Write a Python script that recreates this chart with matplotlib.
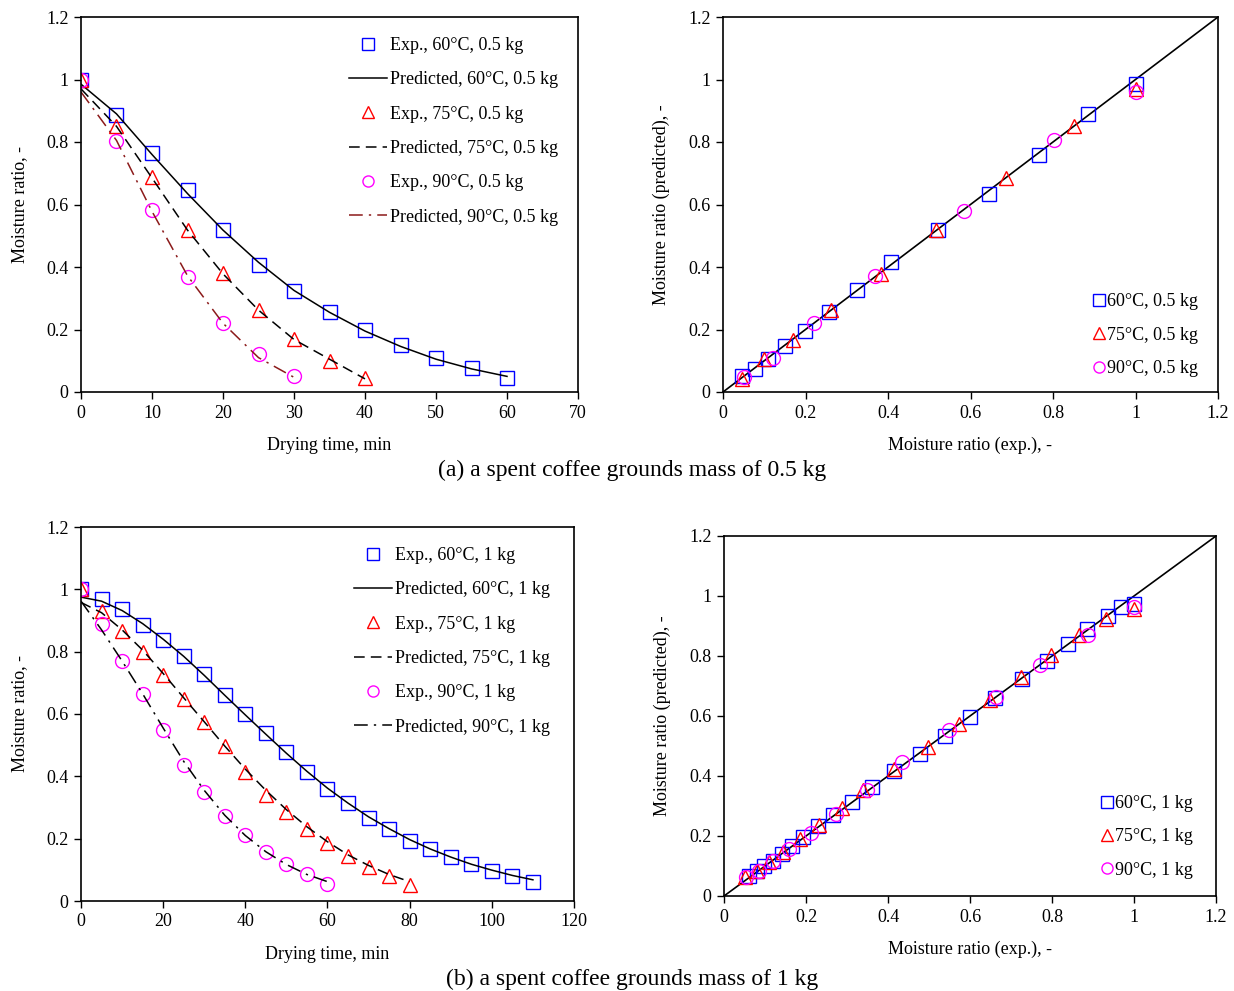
import matplotlib
matplotlib.use('Agg')
from matplotlib import pyplot as plt
from matplotlib.ticker import FuncFormatter

plt.rcParams['font.family'] = ['Liberation Serif', 'DejaVu Serif']
plt.rcParams['font.size'] = 13

# ---- 0.5 kg data ----
t60_05 = [0, 5, 10, 15, 20, 25, 30, 35, 40, 45, 50, 55, 60]
exp60_05 = [1.0, 0.885, 0.765, 0.645, 0.52, 0.407, 0.324, 0.257, 0.199, 0.151, 0.109, 0.077, 0.045]
pred60_05 = [0.985, 0.89, 0.76, 0.635, 0.518, 0.415, 0.325, 0.255, 0.195, 0.146, 0.105, 0.074, 0.05]

t75_05 = [0, 5, 10, 15, 20, 25, 30, 35, 40]
exp75_05 = [1.0, 0.85, 0.687, 0.517, 0.382, 0.263, 0.17, 0.1, 0.045]
pred75_05 = [0.97, 0.85, 0.685, 0.518, 0.378, 0.262, 0.168, 0.105, 0.042]

t90_05 = [0, 5, 10, 15, 20, 25, 30]
exp90_05 = [1.0, 0.802, 0.584, 0.369, 0.221, 0.122, 0.051]
pred90_05 = [0.96, 0.805, 0.578, 0.372, 0.22, 0.11, 0.047]

# ---- 1 kg data ----
t60_1 = [0, 5, 10, 15, 20, 25, 30, 35, 40, 45, 50, 55, 60, 65, 70, 75, 80, 85, 90, 95, 100, 105, 110]
exp60_1 = [1.0, 0.969, 0.936, 0.886, 0.839, 0.787, 0.727, 0.661, 0.600, 0.538, 0.478, 0.415, 0.360,
           0.313, 0.267, 0.230, 0.193, 0.166, 0.142, 0.119, 0.097, 0.080, 0.061]
pred60_1 = [0.975, 0.962, 0.932, 0.89, 0.84, 0.785, 0.724, 0.66, 0.597, 0.535, 0.474, 0.416, 0.362,
            0.314, 0.27, 0.232, 0.197, 0.167, 0.141, 0.118, 0.099, 0.082, 0.068]

t75_1 = [0, 5, 10, 15, 20, 25, 30, 35, 40, 45, 50, 55, 60, 65, 70, 75, 80]
exp75_1 = [1.0, 0.931, 0.866, 0.798, 0.724, 0.649, 0.574, 0.497, 0.414, 0.339, 0.287, 0.232,
           0.185, 0.144, 0.110, 0.080, 0.052]
pred75_1 = [0.958, 0.925, 0.87, 0.805, 0.73, 0.652, 0.575, 0.497, 0.423, 0.355, 0.293, 0.238,
            0.19, 0.148, 0.114, 0.085, 0.062]

t90_1 = [0, 5, 10, 15, 20, 25, 30, 35, 40, 45, 50, 55, 60]
exp90_1 = [1.0, 0.888, 0.771, 0.663, 0.549, 0.435, 0.349, 0.273, 0.212, 0.158, 0.119, 0.086, 0.054]
pred90_1 = [0.962, 0.87, 0.77, 0.665, 0.555, 0.448, 0.355, 0.275, 0.21, 0.158, 0.117, 0.085, 0.062]

W, H = 1234, 991
fig = plt.figure(figsize=(W / 100, H / 100), dpi=100)


def box(x0, y0, x1, y1):
    return fig.add_axes([x0 / W, 1 - y1 / H, (x1 - x0) / W, (y1 - y0) / H])


def style(ax):
    ax.tick_params(direction='out', length=5, width=1, labelsize=13, pad=4)
    for s in ax.spines.values():
        s.set_linewidth(1.2)
    ax.yaxis.set_major_formatter(FuncFormatter(lambda v, p: '%g' % round(v, 2)))
    ax.xaxis.set_major_formatter(FuncFormatter(lambda v, p: '%g' % round(v, 2)))


mk = dict(linestyle='none', markerfacecolor='none', markersize=10, markeredgewidth=1)


def drying(ax, data, xmax, xstep, mass, c90, anchor_x):
    ls = ['-', (0, (7, 4)), (0, (9, 4, 1.5, 4))]
    lc = ['black', 'black', c90]
    marks = [('s', 'blue'), ('^', 'red'), ('o', 'magenta')]
    for i, (temp, t, e, p) in enumerate(data):
        ax.plot(t, e, marker=marks[i][0], markeredgecolor=marks[i][1], **mk,
                label='Exp., %d°C, %s' % (temp, mass))
        ax.plot(t, p, color=lc[i], linestyle=ls[i], linewidth=1.1,
                label='Predicted, %d°C, %s' % (temp, mass))
    ax.set_xlim(0, xmax)
    ax.set_ylim(0, 1.2)
    ax.set_xticks(range(0, xmax + 1, xstep))
    ax.set_yticks([0, 0.2, 0.4, 0.6, 0.8, 1.0, 1.2])
    ax.set_xlabel('Drying time, min', labelpad=11)
    ax.set_ylabel('Moisture ratio, -', labelpad=13)
    style(ax)
    ax.legend(loc='upper right', frameon=False, fontsize=13, handlelength=2.1,
              labelspacing=0.96, handletextpad=0.15, bbox_to_anchor=(anchor_x, 0.99),
              markerscale=0.8)


def parity(ax, data, mass, anchor):
    ax.plot([0, 1.2], [0, 1.2], color='black', linewidth=1.2)
    marks = [('s', 'blue'), ('^', 'red'), ('o', 'magenta')]
    for i, (temp, e, p) in enumerate(data):
        ax.plot(e, p, marker=marks[i][0], markeredgecolor=marks[i][1], **mk,
                label='%d°C, %s' % (temp, mass))
    ax.set_xlim(0, 1.2)
    ax.set_ylim(0, 1.2)
    ax.set_xticks([0, 0.2, 0.4, 0.6, 0.8, 1.0, 1.2])
    ax.set_yticks([0, 0.2, 0.4, 0.6, 0.8, 1.0, 1.2])
    ax.set_xlabel('Moisture ratio (exp.), -', labelpad=11)
    ax.set_ylabel('Moisture ratio (predicted), -', labelpad=13)
    style(ax)
    ax.legend(loc='lower right', frameon=False, fontsize=13, handlelength=0.7,
              labelspacing=0.9, handletextpad=0.1, bbox_to_anchor=anchor,
              markerscale=0.8)


axa1 = box(81, 17, 578, 392)
drying(axa1, [(60, t60_05, exp60_05, pred60_05), (75, t75_05, exp75_05, pred75_05),
              (90, t90_05, exp90_05, pred90_05)], 70, 10, '0.5 kg', '#8b1a1a', 0.992)
axa2 = box(723, 17, 1218, 392)
parity(axa2, [(60, exp60_05, pred60_05), (75, exp75_05, pred75_05), (90, exp90_05, pred90_05)],
       '0.5 kg', (0.992, -0.003))

axb1 = box(81, 527, 574, 901)
drying(axb1, [(60, t60_1, exp60_1, pred60_1), (75, t75_1, exp75_1, pred75_1),
              (90, t90_1, exp90_1, pred90_1)], 120, 20, '1 kg', 'black', 0.984)
axb2 = box(724, 536, 1216, 896)
parity(axb2, [(60, exp60_1, pred60_1), (75, exp75_1, pred75_1), (90, exp90_1, pred90_1)],
       '1 kg', (0.986, 0.003))

fig.text(632 / W, 1 - 470 / H, '(a) a spent coffee grounds mass of 0.5 kg', ha='center', va='center', fontsize=17)
fig.text(632 / W, 1 - 979 / H, '(b) a spent coffee grounds mass of 1 kg', ha='center', va='center', fontsize=17)

fig.savefig('out.png', dpi=100)
